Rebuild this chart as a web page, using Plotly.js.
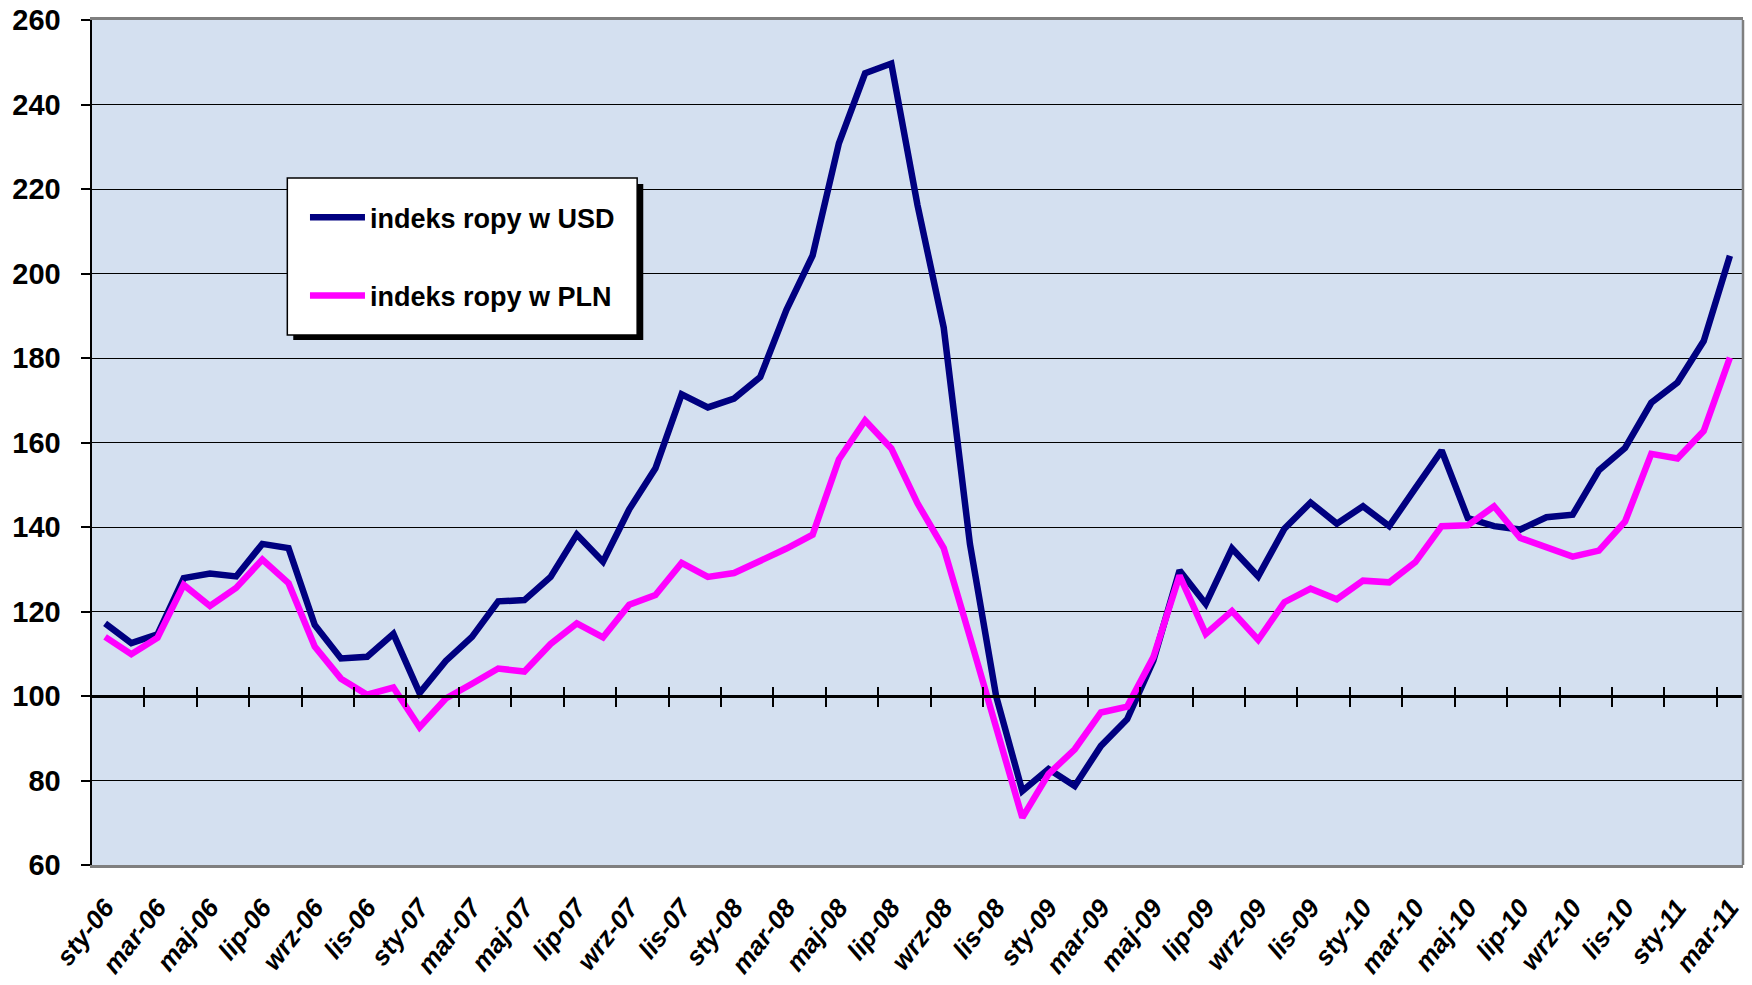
<!DOCTYPE html>
<html>
<head>
<meta charset="utf-8">
<script src="https://cdn.plot.ly/plotly-3.0.1.min.js"></script>
<style>
  html, body { margin: 0; padding: 0; background: #ffffff; }
  #chart { width: 1752px; height: 985px; }
</style>
</head>
<body>
<div id="chart"></div>
<script>
// Categories (months, Polish abbreviations)
var months = [
  "sty-06","lut-06","mar-06","kwi-06","maj-06","cze-06","lip-06","sie-06","wrz-06","paź-06","lis-06","gru-06",
  "sty-07","lut-07","mar-07","kwi-07","maj-07","cze-07","lip-07","sie-07","wrz-07","paź-07","lis-07","gru-07",
  "sty-08","lut-08","mar-08","kwi-08","maj-08","cze-08","lip-08","sie-08","wrz-08","paź-08","lis-08","gru-08",
  "sty-09","lut-09","mar-09","kwi-09","maj-09","cze-09","lip-09","sie-09","wrz-09","paź-09","lis-09","gru-09",
  "sty-10","lut-10","mar-10","kwi-10","maj-10","cze-10","lip-10","sie-10","wrz-10","paź-10","lis-10","gru-10",
  "sty-11","lut-11","mar-11"
];

// Oil price index in USD
var indexUSD = [
  117.2,112.5,114.6,127.9,129.0,128.3,136.0,135.0,116.8,108.9,109.3,114.7,
  100.7,108.3,114.0,122.4,122.7,128.2,138.2,131.8,144.2,153.9,171.4,168.3,
  170.4,175.5,191.4,204.3,230.8,247.4,249.7,216.2,187.2,136.0,100.0,77.5,
  82.7,78.7,88.2,94.5,108.4,129.7,121.8,134.9,128.3,139.6,145.8,140.8,
  144.9,140.2,149.2,158.1,142.1,140.2,139.4,142.3,142.9,153.4,158.7,169.4,
  174.2,184.0,204.2
];

// Oil price index in PLN
var indexPLN = [
  114.0,109.9,113.8,126.3,121.3,125.6,132.3,126.7,111.7,104.1,100.3,102.0,
  92.6,99.4,102.9,106.5,105.8,112.3,117.2,113.9,121.6,123.9,131.5,128.2,
  129.1,131.8,134.9,138.2,156.0,165.2,158.6,145.6,135.0,114.0,92.0,71.2,
  81.5,87.4,96.1,97.5,109.2,128.5,114.7,120.1,113.3,122.2,125.4,122.9,
  127.3,126.9,131.7,140.2,140.4,144.9,137.4,135.0,133.0,134.4,141.3,157.3,
  156.2,162.7,180.1
];

var seriesNames = ["indeks ropy w USD", "indeks ropy w PLN"];
var yTicks = [60, 80, 100, 120, 140, 160, 180, 200, 220, 240, 260];

// labels every second month
var labelVals = months.filter(function (m, i) { return i % 2 === 0; });
// tick marks on the 100-line at boundaries between every second category
var boundaryVals = [];
for (var k = 1.5; k < months.length - 1; k += 2) boundaryVals.push(k);

var FONT = "Liberation Sans, Arial, Helvetica, sans-serif";
var xRange = [-0.5, months.length - 0.5];

var traces = [
  {
    type: "scatter", mode: "lines", name: seriesNames[0],
    x: months, y: indexUSD, xaxis: "x", yaxis: "y",
    legendgroup: "g1",
    line: { color: "#000080", width: 6.5 }
  },
  {
    type: "scatter", mode: "lines", name: seriesNames[1],
    x: months, y: indexPLN, xaxis: "x", yaxis: "y",
    legendgroup: "g2",
    line: { color: "#FF00FF", width: 6.5 }
  },
  // empty helper traces so that the axis drawn along the 100 line exists
  { type: "scatter", mode: "lines", x: [], y: [], xaxis: "x2", yaxis: "y",
    showlegend: false, hoverinfo: "skip" },
  { type: "scatter", mode: "lines", x: [], y: [], xaxis: "x3", yaxis: "y",
    showlegend: false, hoverinfo: "skip" }
];

var layout = {
  width: 1752, height: 985,
  margin: { l: 92, r: 9, t: 20, b: 120 },
  paper_bgcolor: "#FFFFFF",
  plot_bgcolor: "#D4E0F0",
  showlegend: true,
  legend: {
    x: 0.129, y: 0.795, xanchor: "left", yanchor: "top",
    bgcolor: "rgba(0,0,0,0)", borderwidth: 0,
    traceorder: "grouped", tracegroupgap: 40,
    itemwidth: 55,
    font: { family: FONT, size: 27, color: "#000000", weight: "bold" }
  },
  xaxis: {
    type: "category",
    categoryorder: "array", categoryarray: months,
    range: xRange,
    tickmode: "array", tickvals: labelVals, ticktext: labelVals,
    tickangle: -52,
    ticks: "", ticklabelstandoff: 14,
    tickfont: { family: FONT, size: 26, color: "#000000", weight: "bold", style: "italic" },
    showgrid: false, zeroline: false,
    showline: true, linecolor: "#7F7F7F", linewidth: 3, mirror: true,
    fixedrange: true
  },
  xaxis2: {
    type: "linear", overlaying: "x", anchor: "free", position: 0.2,
    range: xRange,
    tickmode: "array", tickvals: boundaryVals,
    ticks: "outside", ticklen: 9, tickwidth: 2, tickcolor: "#000000",
    showticklabels: false, showgrid: false, zeroline: false,
    showline: true, linecolor: "#000000", linewidth: 3,
    fixedrange: true
  },
  xaxis3: {
    type: "linear", overlaying: "x", anchor: "free", position: 0.2,
    range: xRange,
    tickmode: "array", tickvals: boundaryVals,
    ticks: "inside", ticklen: 9, tickwidth: 2, tickcolor: "#000000",
    showticklabels: false, showgrid: false, zeroline: false,
    showline: false,
    fixedrange: true
  },
  yaxis: {
    range: [60, 260],
    tickmode: "array", tickvals: yTicks,
    ticks: "outside", ticklen: 9, tickwidth: 2, tickcolor: "#000000",
    ticklabelstandoff: 14,
    tickfont: { family: FONT, size: 29, color: "#000000", weight: "bold" },
    showgrid: true, gridcolor: "#000000", gridwidth: 1,
    zeroline: false,
    showline: true, linecolor: "#000000", linewidth: 2.5,
    fixedrange: true
  },
  shapes: [
    // right border of plot area
    { type: "line", xref: "paper", yref: "paper", x0: 1, x1: 1, y0: 0, y1: 1,
      line: { color: "#7F7F7F", width: 2.5 }, layer: "above" },
    // legend shadow
    { type: "rect", xref: "paper", yref: "paper", x0: 0.1219, x1: 0.3339, y0: 0.6213, y1: 0.8059,
      fillcolor: "#000000", line: { width: 0 }, layer: "above" },
    // legend box
    { type: "rect", xref: "paper", yref: "paper", x0: 0.1183, x1: 0.3302, y0: 0.6272, y1: 0.8130,
      fillcolor: "#FFFFFF", line: { color: "#000000", width: 1.5 }, layer: "above" }
  ]
};

Plotly.newPlot("chart", traces, layout, { displayModeBar: false, staticPlot: true });
</script>
</body>
</html>
